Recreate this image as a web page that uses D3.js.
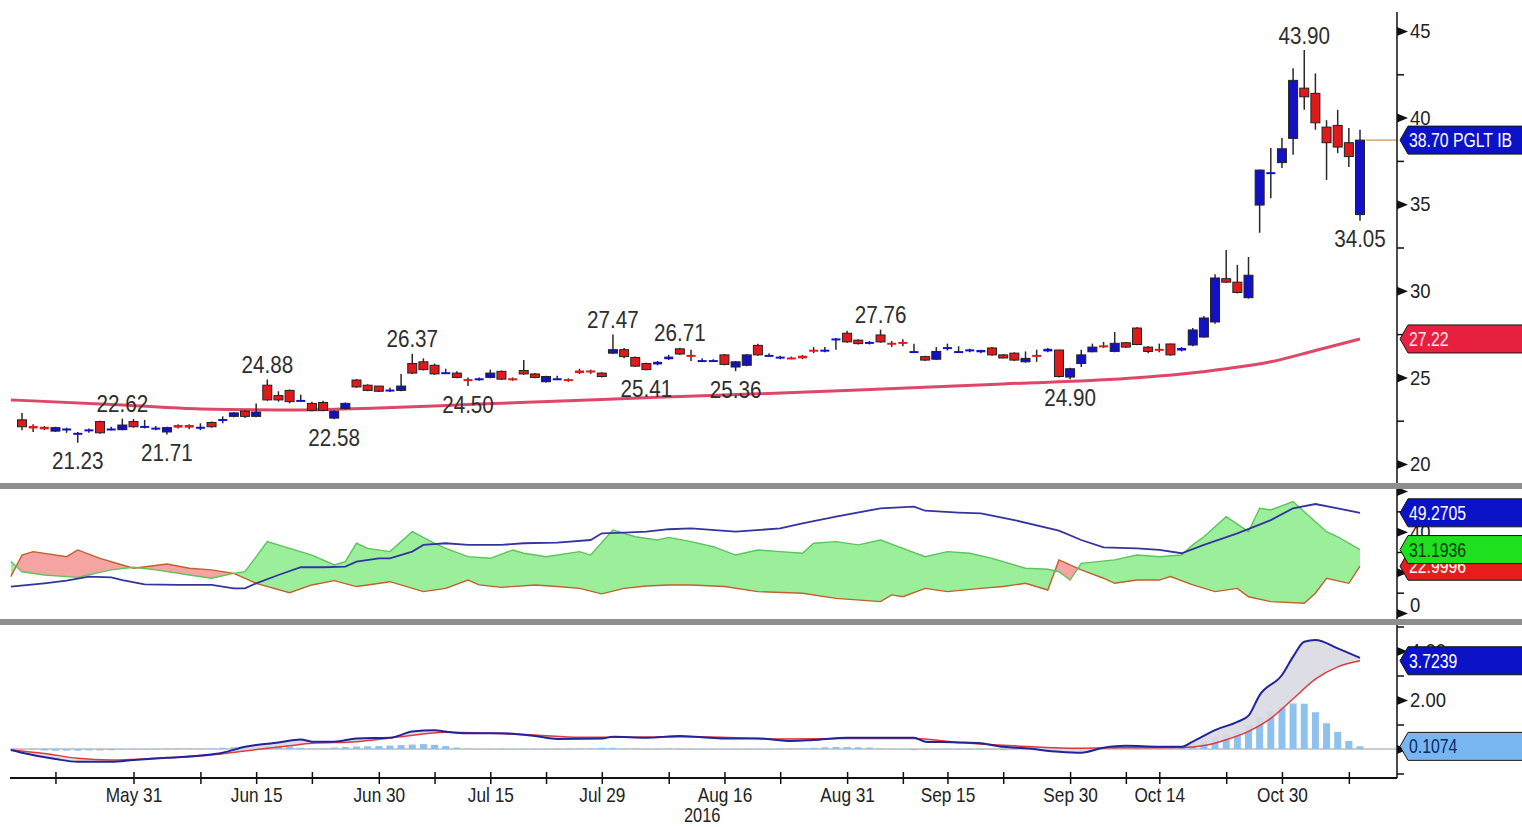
<!DOCTYPE html>
<html>
<head>
<meta charset="utf-8">
<script src="https://cdn.jsdelivr.net/npm/d3@7"></script>
<style>
  html, body { margin: 0; padding: 0; background: #fff; }
  svg { display: block; }
  text { font-family: "Liberation Sans", Arial, sans-serif; }
</style>
</head>
<body>
<svg id="chart" width="1522" height="827"></svg>
<script>
// daily candles, [open, high, low, close], one per trading day
var candles = [
  [22.55,22.95,21.95,22.15],[22.2,22.3,21.85,22.05],[22.15,22.2,21.95,22.0],[21.9,22.15,21.85,22.1],
  [21.95,22.1,21.8,22.05],[21.75,21.85,21.23,21.8],[21.95,22.05,21.8,22.0],[22.45,22.5,21.75,21.8],
  [22.0,22.15,21.95,22.05],[21.98,22.62,21.95,22.25],[22.45,22.6,22.1,22.15],[22.2,22.55,22.05,22.2],
  [22.0,22.2,21.95,22.1],[21.85,22.15,21.71,22.1],[22.25,22.3,22.05,22.1],[22.25,22.3,22.0,22.1],
  [22.05,22.35,21.95,22.15],[22.4,22.45,22.1,22.15],[22.55,22.75,22.35,22.6],[22.75,23.0,22.7,22.95],
  [23.05,23.1,22.65,22.75],[22.75,23.5,22.7,23.0],[24.55,24.88,23.65,23.7],[23.95,24.2,23.6,23.7],
  [24.25,24.3,23.5,23.6],[23.7,24.0,23.6,23.7],[23.5,23.6,23.05,23.1],[23.55,23.65,23.05,23.1],
  [22.65,23.1,22.58,23.05],[23.2,23.55,23.15,23.5],[24.85,24.9,24.4,24.45],[24.55,24.6,24.2,24.25],
  [24.5,24.5,24.15,24.2],[24.25,24.4,24.15,24.3],[24.25,25.2,24.2,24.5],[25.8,26.37,25.2,25.25],
  [25.9,26.1,25.4,25.45],[25.7,25.8,25.15,25.2],[25.3,25.5,25.2,25.3],[25.25,25.35,24.95,25.0],
  [24.9,25.0,24.5,24.85],[24.85,25.0,24.8,24.95],[25.0,25.45,24.95,25.25],[25.35,25.4,24.85,24.9],
  [24.95,25.0,24.8,24.85],[25.4,26.0,25.15,25.2],[25.2,25.25,24.95,25.0],[24.75,25.1,24.7,25.05],
  [24.95,25.1,24.85,24.95],[24.9,24.95,24.75,24.8],[25.4,25.5,25.2,25.25],[25.4,25.45,25.2,25.3],
  [25.25,25.3,25.0,25.05],[26.4,27.47,26.35,26.6],[26.6,26.7,26.1,26.2],[26.15,26.2,25.6,25.65],
  [25.8,25.85,25.41,25.45],[25.75,25.95,25.7,25.9],[26.05,26.3,26.0,26.2],[26.65,26.71,26.3,26.35],
  [26.3,26.6,25.95,26.25],[26.0,26.1,25.9,26.0],[26.0,26.05,25.95,26.0],[26.3,26.35,25.7,25.75],
  [25.6,25.95,25.36,25.9],[25.7,26.35,25.65,26.3],[26.85,26.95,26.25,26.3],[26.3,26.4,26.2,26.3],
  [26.1,26.25,26.05,26.2],[26.15,26.2,26.05,26.1],[26.25,26.3,26.05,26.1],[26.6,26.75,26.4,26.55],
  [26.55,26.75,26.45,26.6],[27.22,27.28,26.6,27.25],[27.55,27.7,27.0,27.05],[27.15,27.2,26.9,26.95],
  [26.97,27.1,26.9,27.05],[27.45,27.76,27.0,27.05],[27.0,27.1,26.75,26.95],[27.05,27.2,26.8,27.0],
  [26.5,26.95,26.45,26.52],[26.2,26.25,25.95,26.0],[26.05,26.75,26.0,26.5],[26.75,26.95,26.55,26.75],
  [26.5,26.8,26.45,26.52],[26.5,26.65,26.45,26.62],[26.45,26.6,26.4,26.58],[26.7,26.75,26.25,26.3],
  [26.3,26.35,26.1,26.12],[26.4,26.45,25.95,26.0],[25.9,26.5,25.85,26.1],[26.3,26.6,25.9,26.25],
  [26.5,26.7,26.45,26.65],[26.58,26.6,25.0,25.05],[25.02,25.55,24.9,25.5],[25.8,26.6,25.6,26.3],
  [26.48,26.95,26.45,26.75],[26.85,27.05,26.7,26.8],[26.5,27.62,26.45,26.97],[27.0,27.05,26.7,26.75],
  [27.85,27.9,26.85,26.9],[26.75,26.8,26.4,26.5],[26.65,26.95,26.45,26.62],[26.93,26.95,26.25,26.3],
  [26.55,26.75,26.5,26.7],[26.87,27.85,26.8,27.74],[27.33,28.55,27.3,28.43],[28.2,30.95,28.1,30.74],
  [30.7,32.35,30.45,30.5],[30.5,31.5,29.85,29.9],[29.6,31.95,29.55,30.9],[34.95,37.0,33.35,36.97],
  [36.75,38.25,35.35,36.85],[37.4,38.82,37.09,38.2],[38.8,42.85,37.85,42.15],[41.7,43.9,40.45,41.2],
  [41.4,42.55,39.3,39.7],[39.45,39.85,36.4,38.55],[39.55,40.45,37.95,38.3],[38.55,39.4,37.15,37.75],
  [34.4,39.3,34.05,38.7]
];

// moving average, [day index, value] at the points
var movingAvg = [[-1,23.7],[9,23.41],[16,23.18],[25,23.12],[32,23.23],[41,23.46],[49,23.65],[57,23.85],
  [66,24.05],[75,24.27],[88,24.62],[100,24.98],[104,25.2],[108,25.5],[112,25.9],[116,26.55],[120,27.22]];

// DMI panel
var diPlus = [[-1,25.3],[0,20.3],[2,18.7],[5,17.5],[8,21.2],[10,22.5],[12,21.2],[15,18.7],[17,17.1],[19,19.5],
  [20,20.3],[22,35.1],[24,31.8],[26,28.5],[28,23.6],[29,25.3],[30,34.3],[31,31.8],[33,30.2],[35,40.0],
  [37,34.3],[38,31.8],[40,27.7],[42,26.9],[44,31.0],[45,29.4],[47,27.7],[50,30.2],[51,28.5],[53,40.8],
  [55,37.5],[57,35.9],[58,37.2],[60,35.1],[62,32.6],[64,28.5],[66,31.0],[68,30.2],[70,29.4],[71,34.3],
  [73,35.1],[75,33.5],[77,35.9],[79,31.8],[81,27.7],[83,30.2],[85,29.4],[87,26.9],[90,22.0],[92,21.5],
  [93,20.3],[94,16.2],[95,24.4],[98,26.1],[100,28.5],[102,27.7],[104,28.5],[105,33.5],[106,37.5],[108,47.4],
  [110,40.0],[111,51.5],[112,50.7],[114,54.8],[115,49.8],[117,40.0],[118,37.5],[120,31.19]];
var diMinus = [[-1,17.9],[0,28.5],[1,30.2],[4,27.7],[5,31.0],[7,26.9],[9,23.6],[10,22.0],[13,24.1],[15,22.0],
  [17,21.2],[19,19.5],[21,14.6],[24,10.0],[26,13.8],[28,15.9],[30,13.0],[31,13.8],[33,15.4],[36,10.5],
  [38,12.1],[40,16.2],[41,13.8],[43,12.6],[46,13.8],[48,13.0],[50,12.1],[52,9.4],[54,12.1],[56,13.3],
  [58,13.8],[60,13.8],[63,13.0],[66,10.5],[70,9.7],[73,7.2],[77,5.6],[78,8.9],[79,8.0],[81,12.1],
  [83,10.5],[86,12.1],[88,13.0],[90,14.6],[92,11.3],[93,26.1],[95,21.2],[97,17.1],[98,14.6],[100,16.2],
  [102,16.2],[103,17.9],[105,13.8],[107,10.5],[109,12.1],[110,8.0],[112,5.6],[115,4.8],[116,9.7],[117,17.1],
  [119,14.6],[120,23.0]];
var adx = [[-1,13.0],[2,14.6],[4,15.9],[6,17.9],[8,17.5],[9,16.2],[11,14.1],[14,13.8],[17,13.8],[19,12.1],
  [20,12.1],[21,14.6],[23,18.7],[25,22.5],[27,22.5],[29,22.8],[30,25.3],[32,26.9],[33,26.9],[35,30.2],
  [36,33.5],[38,34.3],[40,33.5],[43,33.5],[45,34.3],[48,34.6],[51,35.9],[52,39.2],[54,39.5],[56,40.0],
  [58,41.2],[60,41.6],[64,40.0],[68,41.6],[70,44.1],[73,47.4],[77,51.5],[80,52.3],[81,50.3],[84,49.4],
  [86,49.0],[89,45.7],[93,40.5],[95,35.9],[97,32.3],[100,31.8],[102,31.0],[104,29.4],[106,33.5],[109,39.2],
  [112,45.7],[114,51.5],[116,53.6],[118,51.5],[120,49.27]];

// MACD panel
var macdLine = [[-1,-0.04],[0,-0.15],[3,-0.41],[5,-0.52],[8,-0.52],[10,-0.45],[13,-0.36],[16,-0.27],[18,-0.15],
  [20,0.09],[23,0.27],[25,0.39],[26,0.3],[28,0.3],[30,0.43],[33,0.46],[35,0.71],[37,0.77],[38,0.71],[40,0.64],
  [43,0.64],[46,0.53],[48,0.41],[52,0.43],[53,0.5],[56,0.46],[59,0.53],[61,0.48],[63,0.43],[66,0.43],[69,0.33],
  [71,0.37],[74,0.46],[80,0.46],[81,0.3],[84,0.27],[86,0.23],[88,0.09],[90,0.03],[93,-0.11],[95,-0.15],
  [97,0.05],[99,0.13],[102,0.09],[104,0.09],[105,0.3],[107,0.77],[109,1.11],[110,1.36],[111,2.2],[113,3.02],
  [114,3.77],[115,4.38],[116,4.45],[118,4.11],[120,3.72]];
var signalLine = [[-1,-0.04],[2,-0.18],[5,-0.38],[8,-0.45],[12,-0.38],[16,-0.29],[20,-0.08],[24,0.13],[26,0.23],
  [30,0.3],[34,0.5],[38,0.68],[42,0.64],[46,0.57],[50,0.48],[54,0.48],[60,0.5],[68,0.41],[74,0.43],[80,0.43],
  [84,0.27],[89,0.13],[94,0.03],[98,0.05],[104,0.06],[106,0.14],[108,0.38],[110,0.72],[112,1.25],[114,2.05],
  [116,2.85],[118,3.35],[120,3.6]];
var histogram = [-0.03,-0.04,-0.06,-0.07,-0.07,-0.07,-0.06,-0.06,-0.05,-0.04,-0.03,-0.02,-0.02,
  0.02,0.03,0.03,0.03,0.04,0.05,0.07,0.09,0.1,0.12,0.13,0.1,0.05,0.03,0.04,0.06,
  0.08,0.1,0.11,0.12,0.14,0.16,0.18,0.2,0.17,0.12,0.06,
  0.03,0.02,0.01,0.01,-0.01,-0.02,-0.02,-0.01,0.01,0.02,0.03,0.04,
  0.05,0.05,0.04,0.03,0.02,0.02,0.03,
  0.02,0.01,0.01,-0.01,-0.01,-0.02,-0.02,-0.01,0.01,0.02,0.03,0.04,0.05,
  0.07,0.08,0.08,0.07,0.06,0.04,0.02,0.0,
  -0.05,-0.04,-0.03,-0.02,-0.01,-0.02,-0.03,-0.04,-0.05,-0.04,-0.04,-0.05,-0.06,
  -0.08,-0.06,-0.03,0.02,0.04,0.05,0.04,0.03,0.03,0.02,0.04,0.1,
  0.2,0.35,0.5,0.6,0.7,0.95,1.3,1.55,1.72,1.86,1.85,1.5,1.05,0.7,0.33,0.11];

// annotated highs and lows
var peakIdx = [5, 9, 13, 22, 28, 35, 40, 53, 56, 59, 64, 77, 94, 115, 120];
var peakSide = ['low','high','low','high','low','high','low','high','low','high','low','high','low','high','low'];

// time axis
var xTickIdx = [10, 21, 32, 42, 52, 63, 74, 83, 94, 102, 113];
var xTickLabels = ['May 31','Jun 15','Jun 30','Jul 15','Jul 29','Aug 16','Aug 31','Sep 15','Sep 30','Oct 14','Oct 30'];
var xMinorIdx = [3, 16, 26, 37, 47, 58, 68, 79, 88, 99, 108, 119];
var yearLabel = '2016';

// value axes
var priceTicks = [20, 25, 30, 35, 40, 45];
var priceMinor = [22.5, 27.5, 32.5, 37.5, 42.5];
var dmiTicks = [0, 20, 40, 60];
var dmiMinor = [10, 30, 50];
var macdTicks = [0, 2, 4];
var macdMinor = [-1, 1, 3, 5];

// last values shown in the right-hand tags
var lastPrice = 38.70, lastPriceText = '38.70 PGLT IB';
var lastAvg = 27.22;
var lastAdx = 49.2705, lastDiPlus = 31.1936, lastDiMinus = 22.9996;
var lastMacd = 3.7239, lastHist = 0.1074;

(function () {
  var svg = d3.select('#chart'),
      axisX = 1397,
      defs = svg.append('defs');

  var x = d3.scaleLinear().domain([0, 120]).range([22, 1360]);
  var yP = d3.scaleLinear().domain([20, 45]).range([464, 31]);
  var yD = d3.scaleLinear().domain([0, 60]).range([613, 491]);
  var yM = d3.scaleLinear().domain([0, 2]).range([749, 700]);

  // squeeze glyphs sideways, the terminal font is a narrow one
  function narrow(sel, k) {
    sel.each(function () {
      var w = this.getComputedTextLength();
      if (w > 0) {
        d3.select(this).attr('textLength', w * k).attr('lengthAdjust', 'spacingAndGlyphs');
      }
    });
  }

  function clipRect(id, y0, y1) {
    defs.append('clipPath').attr('id', id)
      .append('rect').attr('x', 0).attr('y', y0).attr('width', axisX).attr('height', y1 - y0);
  }
  clipRect('clipTop', 0, 483);
  clipRect('clipDmi', 489, 619);
  clipRect('clipMacd', 625, 777);

  function px(d) { return x(d[0]); }

  // ---- price panel
  var top = svg.append('g').attr('clip-path', 'url(#clipTop)');

  top.append('path')
    .attr('d', d3.line().x(px).y(function (d) { return yP(d[1]); }).curve(d3.curveMonotoneX)(movingAvg))
    .attr('fill', 'none').attr('stroke', '#dc3358').attr('stroke-width', 3).attr('stroke-opacity', 0.9);

  top.selectAll('line.wick').data(candles).enter().append('line')
    .attr('class', 'wick')
    .attr('x1', function (d, i) { return x(i); })
    .attr('x2', function (d, i) { return x(i); })
    .attr('y1', function (d) { return yP(d[1]); })
    .attr('y2', function (d) { return yP(d[2]); })
    .attr('stroke', '#2a2a2a').attr('stroke-width', 1.5);

  top.selectAll('rect.body').data(candles).enter().append('rect')
    .attr('class', 'body')
    .attr('x', function (d, i) { return x(i) - 4.5; })
    .attr('width', 9)
    .attr('y', function (d) { return yP(Math.max(d[0], d[3])); })
    .attr('height', function (d) { return Math.max(2, Math.abs(yP(d[0]) - yP(d[3]))); })
    .attr('fill', function (d) { return d[3] >= d[0] ? '#1212c4' : '#e01a1a'; })
    .attr('stroke', '#222')
    .attr('stroke-width', function (d) { return Math.abs(yP(d[0]) - yP(d[3])) > 3 ? 1 : 0; });

  // last price line
  top.append('line')
    .attr('x1', x(120) + 6).attr('x2', axisX)
    .attr('y1', yP(lastPrice)).attr('y2', yP(lastPrice))
    .attr('stroke', '#d8a468').attr('stroke-width', 1.5);

  var peaks = svg.append('g').selectAll('text').data(peakIdx).enter().append('text')
    .attr('x', function (d) { return x(d); })
    .attr('y', function (d, i) {
      var c = candles[d];
      return peakSide[i] === 'high' ? yP(c[1]) - 15 : yP(c[2]) + 18;
    })
    .attr('text-anchor', 'middle')
    .attr('dominant-baseline', 'central')
    .attr('font-size', 24)
    .attr('fill', '#2e2e2e')
    .text(function (d, i) {
      var c = candles[d];
      return d3.format('.2f')(peakSide[i] === 'high' ? c[1] : c[2]);
    });
  narrow(peaks, 0.86);

  // ---- DMI panel
  var dmi = svg.append('g').attr('clip-path', 'url(#clipDmi)');
  var dY = function (d) { return yD(d[1]); };

  defs.append('clipPath').attr('id', 'aboveMinus').append('path')
    .attr('d', d3.area().x(px).y0(dY).y1(470)(diMinus));
  defs.append('clipPath').attr('id', 'belowMinus').append('path')
    .attr('d', d3.area().x(px).y0(dY).y1(640)(diMinus));

  dmi.append('g').attr('clip-path', 'url(#aboveMinus)').append('path')
    .attr('d', d3.area().x(px).y0(640).y1(dY)(diPlus))
    .attr('fill', '#9bef9b');
  dmi.append('g').attr('clip-path', 'url(#belowMinus)').append('path')
    .attr('d', d3.area().x(px).y0(470).y1(dY)(diPlus))
    .attr('fill', '#f5a3a3');

  dmi.append('path').attr('d', d3.line().x(px).y(dY)(diMinus))
    .attr('fill', 'none').attr('stroke', '#c0602e').attr('stroke-width', 1.4);
  dmi.append('path').attr('d', d3.line().x(px).y(dY)(diPlus))
    .attr('fill', 'none').attr('stroke', '#5cc45c').attr('stroke-width', 1.4);
  dmi.append('path').attr('d', d3.line().x(px).y(dY)(adx))
    .attr('fill', 'none').attr('stroke', '#34349e').attr('stroke-width', 1.8);

  // ---- MACD panel
  var mac = svg.append('g').attr('clip-path', 'url(#clipMacd)');
  var mY = function (d) { return yM(d[1]); };

  mac.append('line').attr('x1', 10).attr('x2', axisX)
    .attr('y1', yM(0)).attr('y2', yM(0))
    .attr('stroke', '#9a9a9a').attr('stroke-width', 1);

  mac.selectAll('rect.hist').data(histogram).enter().append('rect')
    .attr('class', 'hist')
    .attr('x', function (d, i) { return x(i) - 3.5; })
    .attr('width', 7)
    .attr('y', function (d) { return Math.min(yM(d), yM(0)); })
    .attr('height', function (d) { return Math.max(1, Math.abs(yM(d) - yM(0))); })
    .attr('fill', function (d) { return Math.abs(d) < 0.05 ? '#b4c4d8' : '#8fc1ee'; });

  defs.append('clipPath').attr('id', 'aboveSignal').append('path')
    .attr('d', d3.area().x(px).y0(mY).y1(600).curve(d3.curveMonotoneX)(signalLine));
  defs.append('clipPath').attr('id', 'belowSignal').append('path')
    .attr('d', d3.area().x(px).y0(mY).y1(800).curve(d3.curveMonotoneX)(signalLine));
  mac.append('g').attr('clip-path', 'url(#aboveSignal)').append('path')
    .attr('d', d3.area().x(px).y0(800).y1(mY).curve(d3.curveMonotoneX)(macdLine))
    .attr('fill', '#d9d9e2').attr('fill-opacity', 0.9);
  mac.append('g').attr('clip-path', 'url(#belowSignal)').append('path')
    .attr('d', d3.area().x(px).y0(600).y1(mY).curve(d3.curveMonotoneX)(macdLine))
    .attr('fill', '#d9d9e2').attr('fill-opacity', 0.9);

  mac.append('path').attr('d', d3.line().x(px).y(mY).curve(d3.curveMonotoneX)(signalLine))
    .attr('fill', 'none').attr('stroke', '#e03a3a').attr('stroke-width', 1.5);
  mac.append('path').attr('d', d3.line().x(px).y(mY).curve(d3.curveMonotoneX)(macdLine))
    .attr('fill', 'none').attr('stroke', '#23239a').attr('stroke-width', 2);

  // ---- axes
  svg.append('line').attr('x1', axisX).attr('x2', axisX).attr('y1', 12).attr('y2', 778)
    .attr('stroke', '#111').attr('stroke-width', 1.5);

  function rightAxis(scale, major, minor, fmt) {
    var g = svg.append('g').attr('transform', 'translate(' + axisX + ',0)');
    g.call(d3.axisRight(scale).tickValues(major).tickSize(0).tickPadding(13).tickFormat(fmt));
    g.select('.domain').remove();
    g.selectAll('.tick').append('path').attr('d', 'M0,-4.5L11,0L0,4.5Z').attr('fill', '#111');
    g.selectAll('.tick text').attr('font-size', 21).attr('fill', '#222');
    narrow(g.selectAll('.tick text'), 0.88);
    var m = svg.append('g').attr('transform', 'translate(' + axisX + ',0)');
    m.call(d3.axisRight(scale).tickValues(minor).tickSize(7).tickFormat(''));
    m.select('.domain').remove();
    m.selectAll('line').attr('stroke', '#111').attr('stroke-width', 1.5);
    return g;
  }

  rightAxis(yP, priceTicks, priceMinor, d3.format('d'));
  var dAxis = rightAxis(yD, dmiTicks, dmiMinor, function (d) { return d === 60 ? '' : d; });
  dAxis.selectAll('.tick text').filter(function (d) { return d === 0; }).attr('dy', '-0.05em');
  rightAxis(yM, macdTicks, macdMinor, d3.format('.2f'));

  var gx = svg.append('g').attr('transform', 'translate(0,772)');
  gx.call(d3.axisBottom(x).tickValues(xTickIdx).tickSize(12).tickPadding(3)
    .tickFormat(function (d, i) { return xTickLabels[i]; }));
  gx.select('.domain').remove();
  gx.selectAll('line').attr('stroke', '#111').attr('stroke-width', 1.5);
  gx.selectAll('text').attr('font-size', 21).attr('fill', '#222');
  narrow(gx.selectAll('text'), 0.82);

  var gm = svg.append('g').attr('transform', 'translate(0,772)');
  gm.call(d3.axisBottom(x).tickValues(xMinorIdx).tickSize(12).tickFormat(''));
  gm.select('.domain').remove();
  gm.selectAll('line').attr('stroke', '#111').attr('stroke-width', 1.5);

  svg.append('line').attr('x1', 10).attr('x2', axisX).attr('y1', 778).attr('y2', 778)
    .attr('stroke', '#111').attr('stroke-width', 2);

  // year sits under the August ticks
  var yr = svg.append('text').attr('x', x(61)).attr('y', 815)
    .attr('text-anchor', 'middle').attr('dominant-baseline', 'central')
    .attr('font-size', 20).attr('fill', '#222').text(yearLabel);
  narrow(yr, 0.82);

  // panel separators
  [483, 619].forEach(function (y) {
    svg.append('rect').attr('x', 0).attr('y', y).attr('width', 1522).attr('height', 6).attr('fill', '#8e8e8e');
  });

  // ---- value tags on the right
  function tag(yc, fill, color, label) {
    var h = 14;
    svg.append('path')
      .attr('d', 'M1400,' + yc + 'L1408,' + (yc - h) + 'L1530,' + (yc - h) + 'L1530,' + (yc + h) +
        'L1408,' + (yc + h) + 'Z')
      .attr('fill', fill).attr('stroke', '#151515').attr('stroke-width', 1);
    var t = svg.append('text').attr('x', 1409).attr('y', yc)
      .attr('dominant-baseline', 'central')
      .attr('font-size', 20).attr('fill', color).text(label);
    narrow(t, 0.79);
  }

  tag(yP(lastPrice), '#0c12c8', '#ffffff', lastPriceText);
  tag(yP(lastAvg), '#e82040', '#ffe8ec', d3.format('.2f')(lastAvg));
  tag(yD(lastDiMinus), '#e81c1c', '#ffffff', d3.format('.4f')(lastDiMinus));
  tag(yD(lastDiPlus), '#1ee01e', '#0a3a0a', d3.format('.4f')(lastDiPlus));
  tag(yD(lastAdx), '#0c12c8', '#ffffff', d3.format('.4f')(lastAdx));
  tag(yM(lastMacd) + 3, '#0c12c8', '#ffffff', d3.format('.4f')(lastMacd));
  tag(yM(lastHist), '#78b6f2', '#0c2a66', d3.format('.4f')(lastHist));
})();
</script>
</body>
</html>
